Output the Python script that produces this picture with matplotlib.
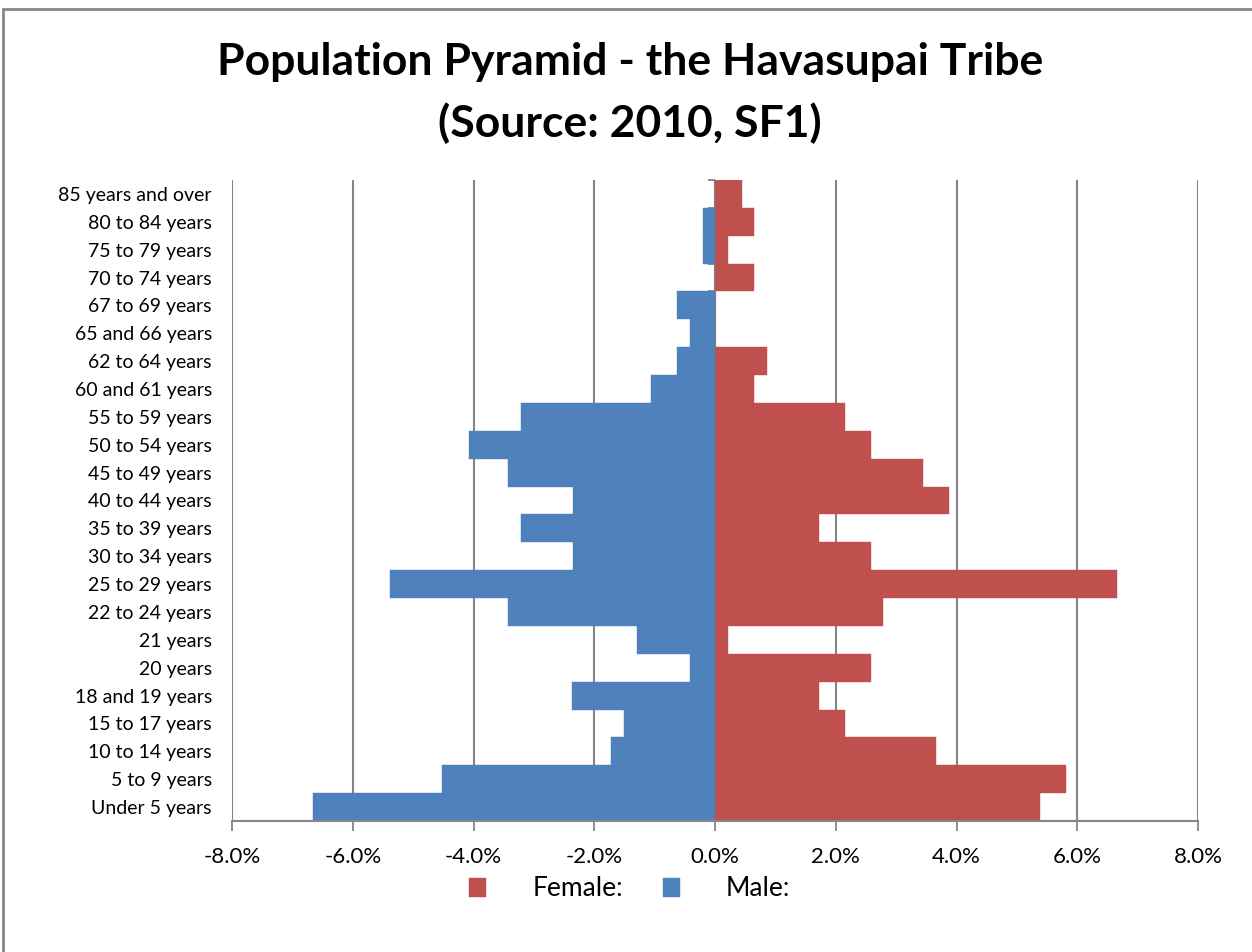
import numpy as np
import matplotlib
matplotlib.use('Agg')
import matplotlib.pyplot as plt
from matplotlib.patches import Rectangle
from matplotlib.ticker import FuncFormatter

plt.rcParams['font.family'] = ['Lato', 'DejaVu Sans']

# Age groups, bottom to top
ages = ['Under 5 years', '5 to 9 years', '10 to 14 years', '15 to 17 years',
        '18 and 19 years', '20 years', '21 years', '22 to 24 years',
        '25 to 29 years', '30 to 34 years', '35 to 39 years', '40 to 44 years',
        '45 to 49 years', '50 to 54 years', '55 to 59 years', '60 and 61 years',
        '62 to 64 years', '65 and 66 years', '67 to 69 years', '70 to 74 years',
        '75 to 79 years', '80 to 84 years', '85 years and over']
# share of total population, percent
female = [5.39, 5.81, 3.66, 2.16, 1.72, 2.58, 0.22, 2.79, 6.66, 2.58, 1.72, 3.87,
          3.44, 2.58, 2.15, 0.65, 0.86, 0.0, 0.0, 0.65, 0.22, 0.65, 0.44]
male = [6.66, 4.52, 1.72, 1.50, 2.37, 0.42, 1.29, 3.43, 5.38, 2.36, 3.22, 2.36,
        3.43, 4.08, 3.22, 1.06, 0.63, 0.42, 0.63, 0.0, 0.20, 0.20, 0.0]
xticks = [-8, -6, -4, -2, 0, 2, 4, 6, 8]

RED = '#C0504D'
BLUE = '#4F81BD'
GRID = '#868686'

fig = plt.figure(figsize=(12.52, 9.52), dpi=100)
ax = fig.add_axes([232/1252, 1 - 821/952, (1198-232)/1252, (821-180)/952])

y = np.arange(len(ages))
ax.barh(y, female, height=1.0, color=RED, edgecolor=RED, linewidth=0.3, label='Female:', zorder=2)
ax.barh(y, -np.array(male), height=1.0, color=BLUE, edgecolor=BLUE, linewidth=0.3, label='Male:', zorder=2)

ax.set_xlim(-8, 8)
ax.set_ylim(-0.5, len(ages) - 0.5)
ax.set_xticks(xticks)
ax.xaxis.set_major_formatter(FuncFormatter(lambda v, p: f'{v:.1f}%'))
ax.set_yticks(y)
ax.set_yticklabels(ages)
ax.tick_params(axis='y', length=0, pad=14.5, labelsize=14)
ax.tick_params(axis='x', length=7, width=1.3, color=GRID, pad=12, labelsize=16)
ax.grid(axis='x', color=GRID, linewidth=1.5, zorder=0)
ax.set_axisbelow(True)
for s in ['top', 'right', 'left']:
    ax.spines[s].set_visible(False)
ax.spines['bottom'].set_color(GRID)
ax.spines['bottom'].set_linewidth(1.5)

# vertical axis through 0 with category ticks
sec = ax.secondary_yaxis(0.5)
sec.set_yticks(np.arange(len(ages) + 1) - 0.5)
sec.set_yticklabels([])
sec.tick_params(length=5, width=1.3, color=GRID, direction='out',
                left=True, right=False, labelleft=False, labelright=False)
sec.spines['left'].set_color(GRID)
sec.spines['left'].set_linewidth(1.5)

fig.text(0.503, 1 - 62/952, 'Population Pyramid - the Havasupai Tribe',
         ha='center', va='center', fontsize=32, fontweight='bold')
fig.text(0.503, 1 - 123/952, '(Source: 2010, SF1)',
         ha='center', va='center', fontsize=32, fontweight='bold')

ax.legend(loc='center', bbox_to_anchor=(0.503, 1 - 889/952), bbox_transform=fig.transFigure,
          ncol=2, frameon=False, fontsize=19, handlelength=0.65, handleheight=0.75,
          handletextpad=1.75, columnspacing=1.5)

fig.patches.append(Rectangle((3/1252, -0.1), 1.2, 1.1 - 9/952, transform=fig.transFigure,
                             fill=False, edgecolor=GRID, linewidth=2))

fig.savefig('out.png', dpi=100, facecolor='white')
